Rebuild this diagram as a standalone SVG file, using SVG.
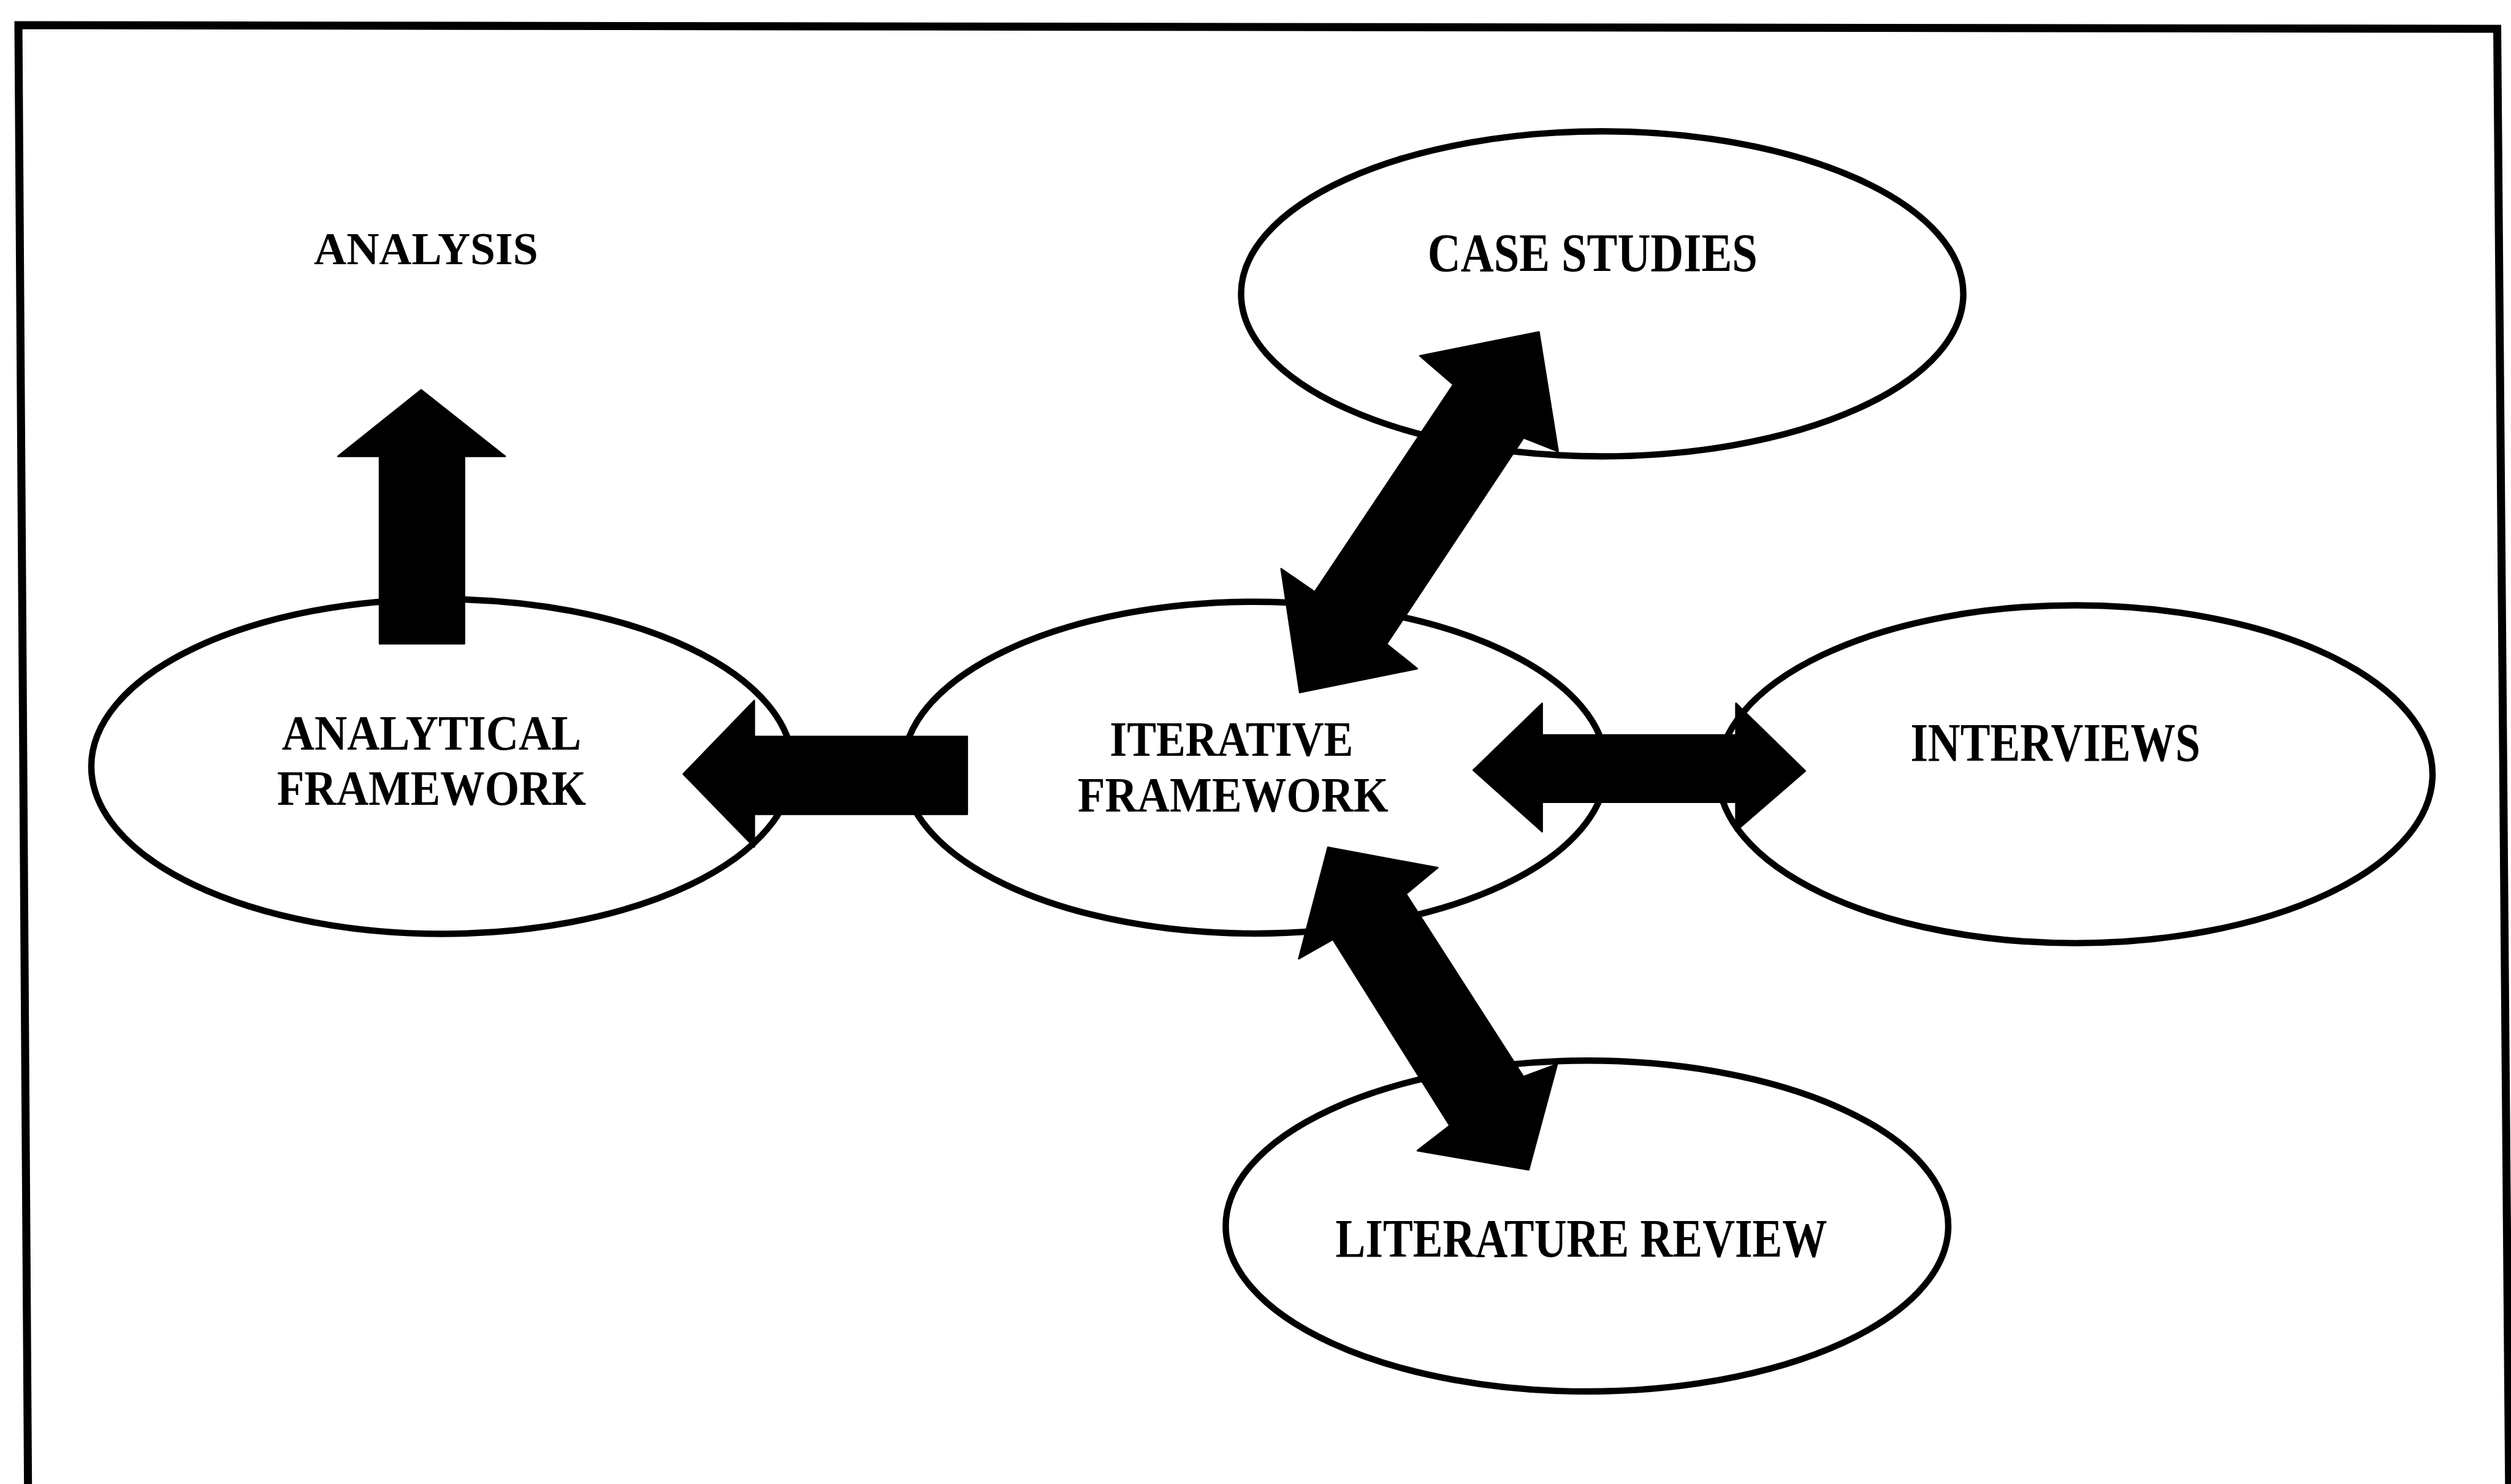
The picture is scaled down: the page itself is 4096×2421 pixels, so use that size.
<svg xmlns="http://www.w3.org/2000/svg" width="4096" height="2421" viewBox="0 0 4096 2421">
<style>
.node ellipse{fill:#fff;stroke:#000;stroke-width:4}
.lbl{font-family:"Liberation Serif","Times New Roman",serif;font-weight:bold;font-size:34px;fill:#000}
.lbl2{font-size:31px}
.arrow{fill:#000;stroke:#000;stroke-width:1;stroke-linejoin:round}
.frame{fill:none;stroke:#000;stroke-width:5}
</style>
<rect x="0" y="0" width="4096" height="2421" fill="#fff"/>
<g transform="scale(2.61224)">
<path class="frame" d="M17.5,930 L11.5,15.7 L1559.4,18 L1566.8,930"/>
<g id="node-analysis" class="node">
<text class="lbl" x="196" y="165" style="font-size:28px" textLength="140" lengthAdjust="spacingAndGlyphs">ANALYSIS</text>
</g>
<g id="node-case-studies" class="node">
<ellipse cx="1000.5" cy="183.5" rx="225.5" ry="101.5"/>
<text class="lbl" x="891.5" y="169.3" textLength="206" lengthAdjust="spacingAndGlyphs">CASE STUDIES</text>
</g>
<g id="node-analytical-framework" class="node">
<ellipse cx="276" cy="478.7" rx="219" ry="104.5"/>
<text class="lbl lbl2" x="176" y="468.3" textLength="187" lengthAdjust="spacingAndGlyphs">ANALYTICAL</text>
<text class="lbl lbl2" x="173" y="502.8" textLength="193" lengthAdjust="spacingAndGlyphs">FRAMEWORK</text>
</g>
<g id="node-iterative-framework" class="node">
<ellipse cx="783.5" cy="479.4" rx="219.5" ry="103.6"/>
<text class="lbl lbl2" x="693" y="472" textLength="152" lengthAdjust="spacingAndGlyphs">ITERATIVE</text>
<text class="lbl lbl2" x="673" y="507" textLength="194" lengthAdjust="spacingAndGlyphs">FRAMEWORK</text>
</g>
<g id="node-interviews" class="node">
<ellipse cx="1296" cy="483.5" rx="223" ry="105.5"/>
<text class="lbl" x="1193" y="475" textLength="181" lengthAdjust="spacingAndGlyphs">INTERVIEWS</text>
</g>
<g id="node-literature-review" class="node">
<ellipse cx="991" cy="765.7" rx="225.6" ry="103.3"/>
<text class="lbl" x="834" y="784.6" textLength="307" lengthAdjust="spacingAndGlyphs">LITERATURE REVIEW</text>
</g>
<g id="connectors">
<polygon class="arrow" points="237,402 237,285 211,285 263,243.5 315.5,285 290,285 290,402"/>
<polygon class="arrow" points="604,460 471,460 471,437.5 426.7,483.4 471,529 471,508.5 604,508.5"/>
<polygon class="arrow" points="963,459 963,439.3 920,481 963,519.4 963,501 1084,501 1084,519 1127.3,481.5 1084,439.2 1084,459"/>
<polygon class="arrow" points="961,207.3 973,282 951.4,273.4 865.9,402.2 885,417.6 811.6,432.5 800,355.2 821,369.6 907.5,240.2 886.7,222.2"/>
<polygon class="arrow" points="829.2,529.2 897.8,541.9 878,558.3 951.3,672.4 972.4,664.6 954.6,730.6 885.1,718.6 905.3,703 832.3,586.7 811,598.8"/>
</g>
</g>
</svg>
